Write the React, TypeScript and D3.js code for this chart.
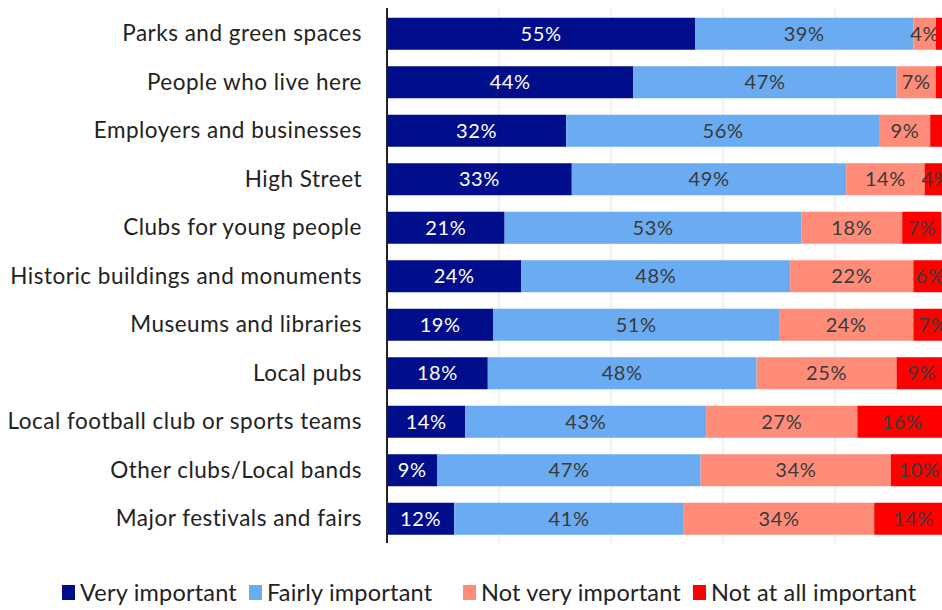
import React from "react";
import * as d3 from "d3";

const categories = [
  "Parks and green spaces",
  "People who live here",
  "Employers and businesses",
  "High Street",
  "Clubs for young people",
  "Historic buildings and monuments",
  "Museums and libraries",
  "Local pubs",
  "Local football club or sports teams",
  "Other clubs/Local bands",
  "Major festivals and fairs",
];

const seriesNames = ["Very important", "Fairly important", "Not very important", "Not at all important"];

const veryImportant = [55, 44, 32, 33, 21, 24, 19, 18, 14, 9, 12];
const fairlyImportant = [39, 47, 56, 49, 53, 48, 51, 48, 43, 47, 41];
const notVeryImportant = [4, 7, 9, 14, 18, 22, 24, 25, 27, 34, 34];
const notAtAllImportant = [2, 2, 3, 4, 7, 6, 7, 9, 16, 10, 14];

const colors = ["#000e8c", "#6aabf2", "#ff8c78", "#ff0000"];
const textColors = ["#ffffff", "#3a3a3a", "#3a3a3a", "#3a3a3a"];
const gridTicks = [20, 40, 60, 80];

const W = 942;
const H = 610;
const FONT = "Lato, 'Open Sans', sans-serif";

export default function App() {
  const x = d3.scaleLinear().domain([0, 100]).range([387, 947]);
  const y = d3.scaleBand<string>().domain(categories).range([9.5, 543]).paddingInner(0.34).paddingOuter(0.17);

  const rows = categories.map((c, i) => ({
    cat: c,
    values: [veryImportant[i], fairlyImportant[i], notVeryImportant[i], notAtAllImportant[i]],
  }));

  const legendX = [62, 249, 463, 693];

  return (
    <svg width={W} height={H} style={{ position: "absolute", left: 0, top: 0, background: "#fff" }}>
      <defs>
        <clipPath id="plot">
          <rect x={0} y={0} width={W} height={H} />
        </clipPath>
      </defs>
      {gridTicks.map((t) => (
        <line key={t} x1={x(t)} x2={x(t)} y1={9} y2={543} stroke="#e4e4e4" strokeWidth={1} />
      ))}
      <g clipPath="url(#plot)">
        {rows.map((r) => {
          let acc = 0;
          return (
            <g key={r.cat}>
              {r.values.map((v, k) => {
                const x0 = x(acc);
                acc += v;
                const x1 = x(acc);
                const yy = y(r.cat)!;
                return (
                  <g key={k}>
                    <rect x={x0} y={yy} width={x1 - x0} height={y.bandwidth()} fill={colors[k]} />
                    {v >= 4 && (
                      <text
                        x={(x0 + x1) / 2}
                        y={yy + y.bandwidth() / 2}
                        dy="0.36em"
                        textAnchor="middle"
                        fontFamily={FONT}
                        fontSize={20}
                        letterSpacing={0.6}
                        fill={textColors[k]}
                      >
                        {v}%
                      </text>
                    )}
                  </g>
                );
              })}
            </g>
          );
        })}
      </g>
      <line x1={387} x2={387} y1={8} y2={543} stroke="#222" strokeWidth={2} />
      {categories.map((c) => (
        <text
          key={c}
          x={362}
          y={y(c)! + y.bandwidth() / 2}
          dy="0.33em"
          textAnchor="end"
          fontFamily={FONT}
          fontSize={22.5}
          letterSpacing={0.5}
          fill="#222"
        >
          {c}
        </text>
      ))}
      {seriesNames.map((s, k) => (
        <g key={s}>
          <rect x={legendX[k]} y={585} width={13} height={15} fill={colors[k]} />
          <text x={legendX[k] + 18} y={593} dy="0.36em" fontFamily={FONT} fontSize={23.5} letterSpacing={0.2} fill="#222">
            {s}
          </text>
        </g>
      ))}
    </svg>
  );
}
